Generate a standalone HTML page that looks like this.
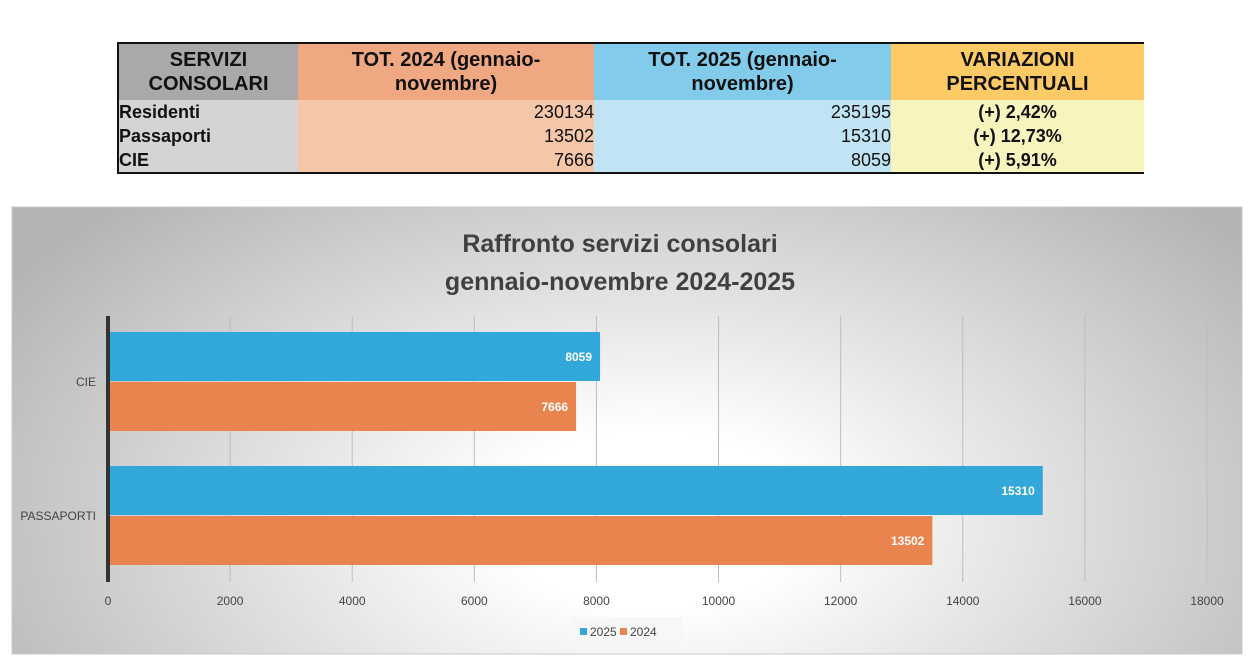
<!DOCTYPE html>
<html><head><meta charset="utf-8"><style>
body{margin:0;width:1256px;height:671px;background:#fff;overflow:hidden;font-family:"Liberation Sans",sans-serif;position:relative}
table{position:absolute;left:117px;top:42px;border-collapse:collapse;width:1027px;border-top:2px solid #111;border-bottom:2px solid #111;border-left:2px solid #111}
td{padding:0;font-size:18px;color:#111;line-height:24px}
th{font-size:20px;font-weight:bold;color:#111;line-height:24px;height:56px;padding:0}
.n{text-align:right}
</style></head><body>
<table>
<tr style="height:56px">
<th style="width:179px;background:#a9a9a9">SERVIZI<br>CONSOLARI</th>
<th style="width:296px;background:#f0a882">TOT. 2024 (gennaio-<br>novembre)</th>
<th style="width:297px;background:#82cbea">TOT. 2025 (gennaio-<br>novembre)</th>
<th style="background:#fdca66">VARIAZIONI<br>PERCENTUALI</th></tr>
<tr><td style="background:#d4d4d4;font-weight:bold">Residenti</td><td class="n" style="background:#f6c6a9">230134</td><td class="n" style="background:#c0e4f3">235195</td><td style="background:#f8f4bd;text-align:center;font-weight:bold">(+) 2,42%</td></tr>
<tr><td style="background:#d4d4d4;font-weight:bold">Passaporti</td><td class="n" style="background:#f6c6a9">13502</td><td class="n" style="background:#c0e4f3">15310</td><td style="background:#f8f4bd;text-align:center;font-weight:bold">(+) 12,73%</td></tr>
<tr><td style="background:#d4d4d4;font-weight:bold">CIE</td><td class="n" style="background:#f6c6a9">7666</td><td class="n" style="background:#c0e4f3">8059</td><td style="background:#f8f4bd;text-align:center;font-weight:bold">(+) 5,91%</td></tr>
</table>
<svg id="chart" width="1256" height="671" style="position:absolute;left:0;top:0">
<defs><radialGradient id="bg" cx="0.52" cy="0.7" r="0.62" gradientTransform="translate(0.5 0.7) scale(1 1.6) translate(-0.5 -0.7)"><stop offset="0.2" stop-color="#ffffff"/><stop offset="1" stop-color="#b4b4b4"/></radialGradient></defs>
<rect x="12" y="207" width="1230" height="447" fill="url(#bg)" stroke="#c8c8c8"/>
<text x="620" y="252" text-anchor="middle" font-family="Liberation Sans,sans-serif" font-weight="bold" font-size="25" fill="#404040">Raffronto servizi consolari</text>
<text x="620" y="290" text-anchor="middle" font-family="Liberation Sans,sans-serif" font-weight="bold" font-size="25" fill="#404040">gennaio-novembre 2024-2025</text>
<g id="grid"></g><g id="bars"></g>
<rect x="106" y="316" width="4" height="266" fill="#333"/>
<g>
<rect x="571" y="617" width="112" height="28" fill="#f7f7f7"/>
<rect x="580" y="628" width="7" height="7" fill="#31a8d9"/>
<text x="590" y="636" font-size="12" fill="#444">2025</text>
<rect x="620" y="628" width="7" height="7" fill="#e9844f"/>
<text x="630" y="636" font-size="12" fill="#444">2024</text>
</g>
</svg>
<script>
const categories=["CIE","PASSAPORTI"];
const values2025=[8059,15310];
const values2024=[7666,13502];
const ticks=[0,2000,4000,6000,8000,10000,12000,14000,16000,18000];
const NS="http://www.w3.org/2000/svg";
const x=v=>108+v*(1207-108)/18000;
const catY=i=>332+i*134;
const grid=document.getElementById('grid'),bars=document.getElementById('bars');
function mk(tag,attrs,parent){const e=document.createElementNS(NS,tag);for(const k in attrs)e.setAttribute(k,attrs[k]);parent.appendChild(e);return e;}
ticks.forEach(t=>{
 if(t>0){const l=mk('line',{x1:x(t),x2:x(t),y1:316,y2:582,stroke:'#bdbdbd','stroke-width':1},grid);
 
 }
 const tx=mk('text',{x:x(t),y:605,'text-anchor':'middle','font-size':12,fill:'#444'},grid);tx.textContent=t;
 
 
});
categories.forEach((c,i)=>{
 const y=catY(i);
 const lb=mk('text',{x:96,y:y+54,'text-anchor':'end','font-size':12,fill:'#444'},grid);lb.textContent=c;
 
 
 [[values2025[i],'#31a8d9','2025',0],[values2024[i],'#e9844f','2024',50]].forEach(([v,col,yr,off])=>{
  const r=mk('rect',{x:x(0),y:y+off,width:x(v)-x(0),height:49,fill:col},bars);
  
  
  const t=mk('text',{x:x(v)-8,y:y+off+29,'text-anchor':'end','font-size':12,'font-weight':'bold',fill:'#fff'},bars);t.textContent=v;
  
  
 });
});
</script>
</body></html>
